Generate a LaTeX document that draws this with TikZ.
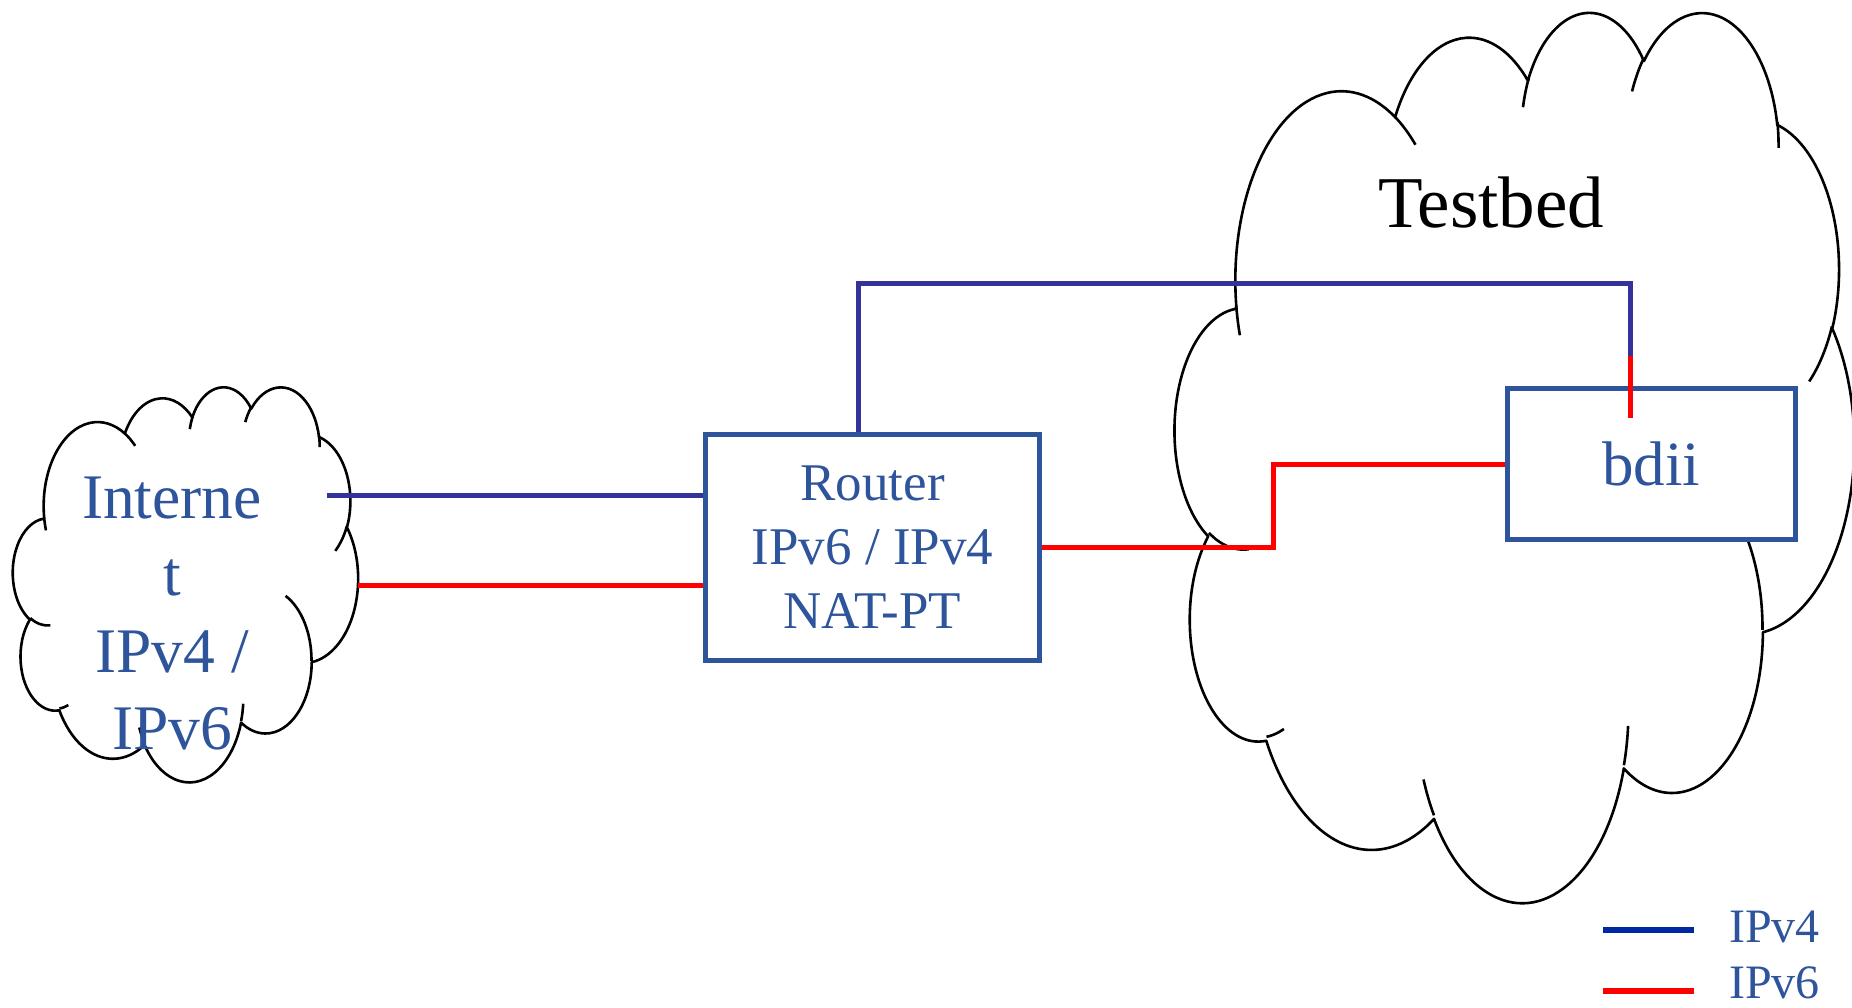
\documentclass[tikz,border=0pt]{standalone}
\usepackage{fontspec}
\setmainfont{Liberation Serif}
\definecolor{navy}{RGB}{51,51,153}
\definecolor{ppblue}{RGB}{46,84,155}
\definecolor{legblue}{RGB}{0,40,160}
% OOXML-style arcTo: wR, hR, start angle, sweep angle (visual angles)
\newcommand\ooarc[4]{arc[x radius=#1, y radius=#2,
  start angle={atan2((#1)*sin(#3),(#2)*cos(#3))},
  delta angle={mod(atan2((#1)*sin((#3)+(#4)),(#2)*cos((#3)+(#4)))-atan2((#1)*sin(#3),(#2)*cos(#3))+720,360)}]}
\newcommand\drawcloud[4]{%
  \pgfmathsetmacro\cloudsx{#3/432}%
  \pgfmathsetmacro\cloudsy{#4/432}%
  \begin{scope}[shift={(#1,#2)}, x=\cloudsx pt, y=-\cloudsy pt]
    \draw[cloudline] (39.00,143.70)
      \ooarc{67.53}{91.90}{-190.48748}{123.78053}
      \ooarc{53.33}{72.67}{-144.10238}{89.94523}
      \ooarc{43.65}{59.45}{-145.80792}{99.72302}
      \ooarc{48.57}{65.95}{-130.98607}{117.24173}
      \ooarc{53.33}{72.73}{-78.70888}{109.02692}
      \ooarc{67.75}{92.20}{-46.26725}{130.269}
      \ooarc{57.85}{78.67}{0.62502}{114.03333}
      \ooarc{67.52}{92.15}{22.4516}{115.17255}
      \ooarc{77.20}{105.43}{66.24263}{75.71102}
      \ooarc{43.60}{59.18}{-274.94208}{146.73557}
      \ooarc{43.45}{59.45}{-246.8285}{152.51885}
      -- cycle;
    \draw[cloudline]
      (46.93,261.77) \ooarc{43.45}{59.45}{86.742}{26.4295}
      (69.28,348.99) \ooarc{43.60}{59.18}{73.61047}{11.44747}
      (164.78,390.90) \ooarc{67.52}{92.15}{137.62415}{14.0811}
      (288.27,347.51) \ooarc{67.52}{92.15}{6.45327}{15.99835}
      (341.29,229.54) \ooarc{57.85}{78.67}{-70.29235}{70.91737}
      (417.98,153.54) \ooarc{53.33}{72.73}{30.31803}{27.7515}
      (383.24,54.26) \ooarc{48.57}{65.95}{-13.74433}{14.8589}
      (290.78,39.52) \ooarc{48.57}{65.95}{-149.18145}{18.19537}
      (221.41,47.20) \ooarc{43.65}{59.45}{-163.49427}{17.68635}
      (140.00,51.92) \ooarc{67.53}{91.90}{-66.70695}{12.31935}
      (41.27,157.89) \ooarc{67.53}{91.90}{157.65435}{11.85817};
  \end{scope}}
\tikzset{
  cloudline/.style={draw=black, line width=2.6pt, line join=round},
  netbox/.style={draw=ppblue, line width=5pt, fill=white, text=ppblue, inner sep=0pt, align=center},
  ipfour/.style={draw=navy, line width=5pt},
  ipsix/.style={draw=red, line width=5pt},
  bluetext/.style={text=ppblue, inner sep=0pt, align=center},
}
\begin{document}
\begin{tikzpicture}[x=1pt, y=-1pt]
\useasboundingbox (0,0) rectangle (1852,1007);
% clouds
\drawcloud{13}{386}{345}{395}
\drawcloud{1175}{10}{679}{890}
% boxes
\node[netbox, minimum width=333.6pt, minimum height=226pt,
      font=\fontsize{53}{64}\selectfont] (router) at (872.5,547.3)
      {Router\\IPv6 / IPv4\\NAT-PT};
\node[netbox, minimum width=287.5pt, minimum height=151pt,
      font=\fontsize{63}{76}\selectfont] (bdii) at (1651.25,464) {bdii};
% texts
\node[bluetext, font=\fontsize{63.5}{77}\selectfont] (inet) at (172,613.5)
      {Interne\\t\\IPv4 /\\IPv6};
\node[anchor=base, inner sep=0pt, font=\fontsize{73}{88}\selectfont] (testbed)
      at (1491,227) {Testbed};
% connectors
\coordinate (inetfour) at (327,495);
\coordinate (inetsix) at (358,585);
\draw[ipfour] (inetfour) -- (inetfour -| router.west);
\draw[ipsix] (inetsix) -- (inetsix -| router.west);
\coordinate (upleft) at (858,283);
\coordinate (upright) at (1630,283);
\coordinate (colorchange) at (1630,356);
\coordinate (sixend) at (1630,418);
\draw[ipfour] (upleft |- router.north) -- (upleft) -- (upright) -- (colorchange);
\draw[ipsix] (colorchange) -- (sixend);
\coordinate (jog) at (1273,500);
\draw[ipsix] (router.east) -- (router.east -| jog) -- (jog |- bdii.west) -- (bdii.west);
% legend
\coordinate (legfoura) at (1603,930);
\coordinate (legfourb) at (1694,930);
\coordinate (legsixa) at (1603,991);
\coordinate (legsixb) at (1694,991);
\draw[draw=legblue, line width=6pt] (legfoura) -- (legfourb);
\draw[draw=red, line width=6pt] (legsixa) -- (legsixb);
\node[bluetext, anchor=base west, font=\fontsize{48}{58}\selectfont] (legfour) at (1729,942) {IPv4};
\node[bluetext, anchor=base west, font=\fontsize{48}{58}\selectfont] (legsix) at (1729,998) {IPv6};
\end{tikzpicture}
\end{document}
